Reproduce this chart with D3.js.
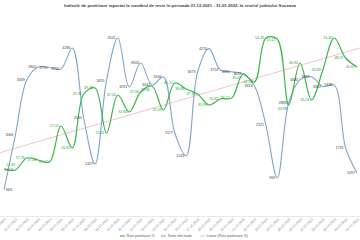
<!DOCTYPE html>
<html>
<head>
<meta charset="utf-8">
<script src="https://cdn.jsdelivr.net/npm/d3@7"></script>
<style>
  body { margin: 0; background: #fff; }
  text { font-family: "Liberation Sans", Arial, sans-serif; }
</style>
</head>
<body>
<div id="chart"></div>
<script>
var dates = ["31.12.2021", "01.01.2022", "02.01.2022", "03.01.2022", "04.01.2022", "05.01.2022",
  "06.01.2022", "07.01.2022", "08.01.2022", "09.01.2022", "10.01.2022", "11.01.2022",
  "12.01.2022", "13.01.2022", "14.01.2022", "15.01.2022", "16.01.2022", "17.01.2022",
  "18.01.2022", "19.01.2022", "20.01.2022", "21.01.2022", "22.01.2022", "23.01.2022",
  "24.01.2022", "25.01.2022", "26.01.2022", "27.01.2022", "28.01.2022", "29.01.2022",
  "30.01.2022", "31.01.2022"];

// rata de pozitivare (%)
var rata = [14.39, 14.08, 17.76, 17.14, 16.53, 27.55, 20.82, 37.35, 39.18, 25.41, 37.04, 31.84,
  37.96, 39.80, 32.45, 40.71, 38.88, 37.35, 33.98, 35.82, 36.12, 43.47, 41.02, 54.49,
  54.12, 33.98, 46.84, 35.51, 44.69, 54.49, 48.37, 45.61];

// teste efectuate
var teste = [663, 2066, 3469, 3801, 3790, 3750, 4286, 2500, 1327, 3455, 4541, 3291,
  3903, 3342, 3546, 2117, 1531, 3673, 4270, 3724, 3680, 3622, 3316, 2321,
  969, 2883, 3480, 3551, 3300, 3338, 1735, 1097];

var titlu = "Indicele de pozitivare raportat la numărul de teste în perioada 31.12.2021 - 31.01.2022, la nivelul județului Suceava";
var legenda = ["Rata pozitivare %", "Teste efectuate", "Linear (Rata pozitivare %)"];

var W = 360, H = 240;
var verde = "#3cb54a", albastru = "#7fa6cc", roz = "#f2a7a7";

var svg = d3.select("#chart").append("svg")
    .attr("width", W)
    .attr("height", H);

var x = d3.scalePoint()
    .domain(dates)
    .range([4, 357]);

var yRata = d3.scaleLinear()
    .domain([0, 60])
    .range([216, 20]);

var yTeste = d3.scaleLinear()
    .domain([0, 5000])
    .range([216, 20]);

svg.append("text")
    .attr("x", W / 2)
    .attr("y", 7)
    .attr("text-anchor", "middle")
    .attr("font-size", 4.2)
    .attr("font-weight", "bold")
    .attr("fill", "#404040")
    .attr("textLength", 232)
    .attr("lengthAdjust", "spacingAndGlyphs")
    .text(titlu);

// axa x
svg.append("line")
    .attr("x1", 0).attr("x2", W)
    .attr("y1", 216.5).attr("y2", 216.5)
    .attr("stroke", "#d9d9d9")
    .attr("stroke-width", 0.6);

svg.selectAll(".data-x")
    .data(dates)
    .enter()
    .append("text")
    .attr("class", "data-x")
    .attr("transform", function(d){
        return "translate(" + (x(d) + 2) + ",219.5) rotate(-45)";
    })
    .attr("text-anchor", "end")
    .attr("font-size", 3.4)
    .attr("fill", "#808080")
    .text(function(d){ return d; });

// linia de tendinta (regresie liniara pe rata)
var mx = d3.mean(rata, function(d, i){ return i; });
var my = d3.mean(rata);
var sxy = d3.sum(rata, function(d, i){ return (i - mx) * (d - my); });
var sxx = d3.sum(rata, function(d, i){ return (i - mx) * (i - mx); });
var panta = sxy / sxx;
var inter = my - panta * mx;

svg.append("line")
    .attr("x1", 0)
    .attr("y1", yRata(inter + panta * (-x(dates[0]) / x.step())))
    .attr("x2", W)
    .attr("y2", yRata(inter + panta * ((W - x(dates[0])) / x.step())))
    .attr("stroke", roz)
    .attr("stroke-width", 0.7);

var lineRata = d3.line()
    .x(function(d, i){ return x(dates[i]); })
    .y(function(d){ return yRata(d); })
    .curve(d3.curveCatmullRom.alpha(0.5));

var lineTeste = d3.line()
    .x(function(d, i){ return x(dates[i]); })
    .y(function(d){ return yTeste(d); })
    .curve(d3.curveCatmullRom.alpha(0.5));

svg.append("path")
    .datum(teste)
    .attr("d", lineTeste)
    .attr("fill", "none")
    .attr("stroke", albastru)
    .attr("stroke-width", 1.1);

svg.append("path")
    .datum(rata)
    .attr("d", lineRata)
    .attr("fill", "none")
    .attr("stroke", verde)
    .attr("stroke-width", 1.2);

// etichete: in stanga punctului, primul punct in dreapta
function lx(i){ return i == 0 ? x(dates[i]) + 2 : x(dates[i]) - 2; }
function la(d, i){ return i == 0 ? "start" : "end"; }

svg.selectAll(".lbl-teste")
    .data(teste)
    .enter()
    .append("text")
    .attr("class", "lbl-teste")
    .attr("x", function(d, i){ return lx(i); })
    .attr("y", function(d){ return yTeste(d) + 1.3; })
    .attr("text-anchor", la)
    .attr("font-size", 3.6)
    .attr("fill", "#404040")
    .text(function(d){ return d; });

svg.selectAll(".lbl-rata")
    .data(rata)
    .enter()
    .append("text")
    .attr("class", "lbl-rata")
    .attr("x", function(d, i){ return lx(i); })
    .attr("y", function(d, i){
        if (i == 0) return yRata(d) - 2.5;
        var dy = Math.abs(yRata(d) - yTeste(teste[i])) < 4 ? 5 : 1.3;
        return yRata(d) + dy;
    })
    .attr("text-anchor", la)
    .attr("font-size", 3.6)
    .attr("fill", "#2e9e3c")
    .text(function(d){ return d.toFixed(2).replace(".", ","); });

// legenda
var legX = [120, 161, 200];
var legCul = [verde, albastru, roz];
var leg = svg.selectAll(".leg")
    .data(legenda)
    .enter()
    .append("g")
    .attr("class", "leg")
    .attr("transform", function(d, i){ return "translate(" + legX[i] + ",236)"; });

leg.append("line")
    .attr("x1", 0).attr("x2", 5)
    .attr("y1", 0).attr("y2", 0)
    .attr("stroke", function(d, i){ return legCul[i]; })
    .attr("stroke-width", function(d, i){ return i == 2 ? 0.7 : 1.1; });

leg.append("text")
    .attr("x", 6.5)
    .attr("y", 1.3)
    .attr("font-size", 3.6)
    .attr("fill", "#595959")
    .text(function(d){ return d; });
</script>
</body>
</html>
